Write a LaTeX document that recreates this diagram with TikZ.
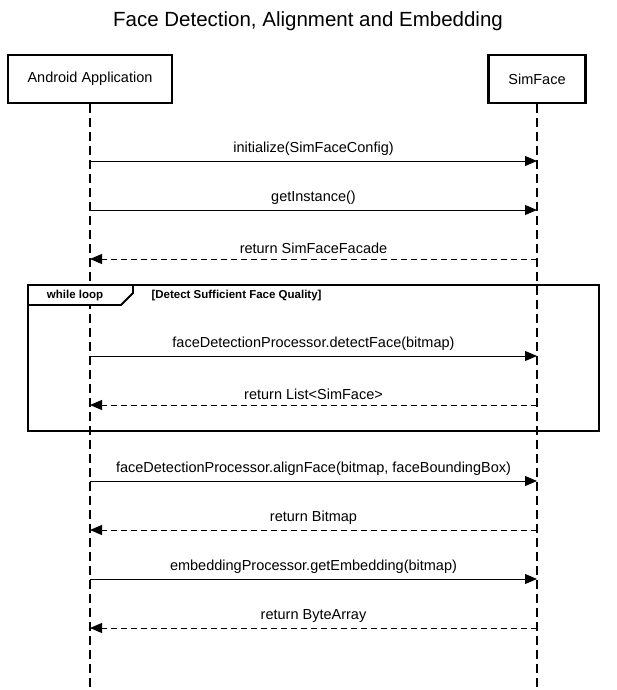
\documentclass[tikz,border=0pt]{standalone}
\usepackage{fontspec}
\setmainfont{Liberation Sans}
\usetikzlibrary{arrows.meta}

\tikzset{
  actor/.style={draw, line width=2.2pt, minimum height=48pt, inner sep=0pt, font=\fontsize{14.5}{17}\selectfont},
  lifeline/.style={line width=1.1pt, dash pattern=on 9pt off 5pt},
  call/.style={-{Triangle[length=12pt,width=10pt]}, line width=0.9pt},
  reply/.style={-{Triangle[length=12pt,width=10pt]}, line width=0.9pt, dash pattern=on 6pt off 4pt},
  msg/.style={font=\fontsize{14.5}{17}\selectfont, inner sep=0pt},
  framebox/.style={line width=1.8pt},
}

\begin{document}
\begin{tikzpicture}[x=1pt, y=-1pt]
    \useasboundingbox (0,0) rectangle (616,690);

    % Title
    \node[font=\fontsize{20.5}{24}\selectfont] (title) at (308,21) {Face Detection, Alignment and Embedding};

    % Participants
    \node[actor, minimum width=164pt] (app) at (90,79) {Android Application};
    \node[actor, minimum width=97pt] (sim) at (537,79) {SimFace};

    % Lifelines
    \coordinate (append) at (90,690);
    \coordinate (simend) at (537,690);
    \draw[lifeline] (app.south) -- (append);
    \draw[lifeline] (sim.south) -- (simend);

    % Points on the lifelines
    \foreach \n/\y in {1/161, 2/210, 3/259, 4/356, 5/405, 6/481, 7/530, 8/579, 9/628} {
        \coordinate (a\n) at (90,\y);
        \coordinate (s\n) at (537,\y);
    }

    % Setup calls
    \draw[call] (a1) -- node[msg, above=5pt] (m1) {initialize(SimFaceConfig)} (s1);
    \draw[call] (a2) -- node[msg, above=5pt] (m2) {getInstance()} (s2);
    \draw[reply] (s3) -- node[msg, above=5pt] (m3) {return SimFaceFacade} (a3);

    % Loop frame
    \draw[framebox] (28,285) rectangle (599,431);
    \filldraw[framebox, fill=white] (28,285) -- (28,305) -- (121,305) -- (133,293) -- (133,285) -- cycle;
    \node[font=\bfseries\fontsize{11.5}{13}\selectfont] (looplbl) at (75,296) {while loop};
    \node[font=\bfseries\fontsize{11.5}{13}\selectfont, anchor=west] (guard) at (148,296) {[Detect Sufficient Face Quality]};

    \draw[call] (a4) -- node[msg, above=5pt] (m4) {faceDetectionProcessor.detectFace(bitmap)} (s4);
    \draw[reply] (s5) -- node[msg, above=5pt] (m5) {return List<SimFace>} (a5);

    % Alignment and embedding
    \draw[call] (a6) -- node[msg, above=5pt] (m6) {faceDetectionProcessor.alignFace(bitmap, faceBoundingBox)} (s6);
    \draw[reply] (s7) -- node[msg, above=5pt] (m7) {return Bitmap} (a7);
    \draw[call] (a8) -- node[msg, above=5pt] (m8) {embeddingProcessor.getEmbedding(bitmap)} (s8);
    \draw[reply] (s9) -- node[msg, above=5pt] (m9) {return ByteArray} (a9);
\end{tikzpicture}
\end{document}
